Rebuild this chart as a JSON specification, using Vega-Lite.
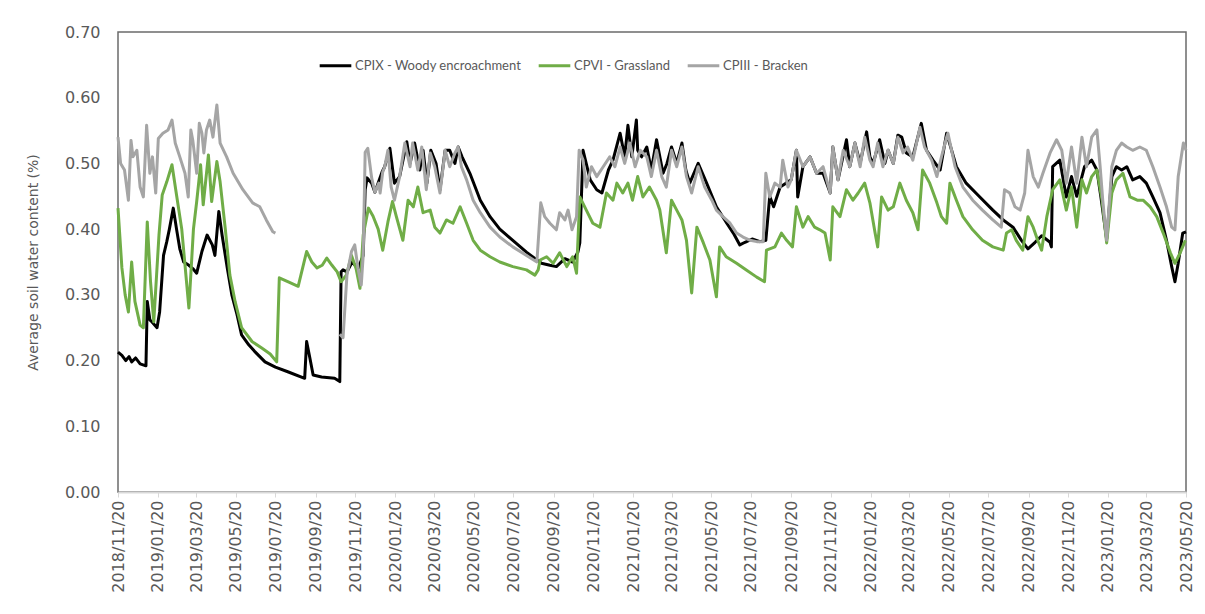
{
  "$schema": "https://vega.github.io/schema/vega-lite/v6.json",
  "width": 1068,
  "height": 460,
  "autosize": {"type": "none"},
  "padding": {"left": 118, "top": 32, "right": 19, "bottom": 122},
  "background": "white",
  "datasets": {
    "cpix": [
      {"d":"2018-11-20","v":0.213},{"d":"2018-11-26","v":0.208},{"d":"2018-12-02","v":0.2},{"d":"2018-12-07","v":0.206},
      {"d":"2018-12-11","v":0.198},{"d":"2018-12-17","v":0.204},{"d":"2018-12-24","v":0.195},{"d":"2019-01-02","v":0.192},
      {"d":"2019-01-04","v":0.29},{"d":"2019-01-08","v":0.262},{"d":"2019-01-11","v":0.259},{"d":"2019-01-19","v":0.25},
      {"d":"2019-01-23","v":0.274},{"d":"2019-01-29","v":0.36},{"d":"2019-02-03","v":0.381},{"d":"2019-02-07","v":0.4},
      {"d":"2019-02-13","v":0.432},{"d":"2019-02-18","v":0.4},{"d":"2019-02-23","v":0.37},{"d":"2019-03-01","v":0.35},
      {"d":"2019-03-09","v":0.345},{"d":"2019-03-15","v":0.34},{"d":"2019-03-21","v":0.333},{"d":"2019-03-29","v":0.366},
      {"d":"2019-04-06","v":0.391},{"d":"2019-04-14","v":0.376},{"d":"2019-04-18","v":0.36},{"d":"2019-04-24","v":0.427},
      {"d":"2019-04-29","v":0.391},{"d":"2019-05-07","v":0.341},{"d":"2019-05-14","v":0.3},{"d":"2019-05-22","v":0.27},
      {"d":"2019-05-29","v":0.239},{"d":"2019-06-09","v":0.224},{"d":"2019-06-18","v":0.214},{"d":"2019-07-04","v":0.198},
      {"d":"2019-07-20","v":0.19},{"d":"2019-08-08","v":0.183},{"d":"2019-09-03","v":0.173},{"d":"2019-09-06","v":0.229},
      {"d":"2019-09-11","v":0.204},{"d":"2019-09-16","v":0.178},{"d":"2019-09-29","v":0.175},{"d":"2019-10-19","v":0.173},
      {"d":"2019-10-27","v":0.168},{"d":"2019-10-29","v":0.335},{"d":"2019-11-01","v":0.338},{"d":"2019-11-07","v":0.335},
      {"d":"2019-11-15","v":0.35},{"d":"2019-11-24","v":0.34},{"d":"2019-12-02","v":0.36},{"d":"2019-12-05","v":0.46},
      {"d":"2019-12-08","v":0.478},{"d":"2019-12-15","v":0.47},{"d":"2019-12-20","v":0.456},{"d":"2019-12-31","v":0.487},
      {"d":"2020-01-04","v":0.495},{"d":"2020-01-12","v":0.523},{"d":"2020-01-19","v":0.47},{"d":"2020-01-27","v":0.48},
      {"d":"2020-02-07","v":0.533},{"d":"2020-02-12","v":0.5},{"d":"2020-02-19","v":0.531},{"d":"2020-02-27","v":0.49},
      {"d":"2020-03-03","v":0.52},{"d":"2020-03-09","v":0.47},{"d":"2020-03-15","v":0.52},{"d":"2020-03-23","v":0.5},
      {"d":"2020-03-29","v":0.46},{"d":"2020-04-06","v":0.52},{"d":"2020-04-13","v":0.52},{"d":"2020-04-21","v":0.5},
      {"d":"2020-04-26","v":0.525},{"d":"2020-05-02","v":0.51},{"d":"2020-05-14","v":0.485},{"d":"2020-05-30","v":0.444},
      {"d":"2020-06-14","v":0.419},{"d":"2020-06-29","v":0.4},{"d":"2020-07-19","v":0.383},{"d":"2020-08-09","v":0.365},
      {"d":"2020-08-25","v":0.353},{"d":"2020-09-01","v":0.348},{"d":"2020-09-14","v":0.345},{"d":"2020-09-24","v":0.343},
      {"d":"2020-10-07","v":0.355},{"d":"2020-10-19","v":0.35},{"d":"2020-10-27","v":0.365},{"d":"2020-10-30","v":0.379},
      {"d":"2020-11-04","v":0.52},{"d":"2020-11-15","v":0.475},{"d":"2020-11-25","v":0.46},{"d":"2020-12-03","v":0.455},
      {"d":"2020-12-13","v":0.49},{"d":"2020-12-20","v":0.505},{"d":"2020-12-31","v":0.546},{"d":"2021-01-07","v":0.51},
      {"d":"2021-01-12","v":0.558},{"d":"2021-01-18","v":0.51},{"d":"2021-01-25","v":0.566},{"d":"2021-01-27","v":0.52},
      {"d":"2021-02-02","v":0.51},{"d":"2021-02-10","v":0.525},{"d":"2021-02-17","v":0.49},{"d":"2021-02-25","v":0.536},
      {"d":"2021-03-07","v":0.485},{"d":"2021-03-13","v":0.5},{"d":"2021-03-20","v":0.525},{"d":"2021-03-28","v":0.5},
      {"d":"2021-04-05","v":0.531},{"d":"2021-04-11","v":0.49},{"d":"2021-04-17","v":0.47},{"d":"2021-04-30","v":0.5},
      {"d":"2021-05-13","v":0.47},{"d":"2021-05-28","v":0.434},{"d":"2021-06-13","v":0.409},{"d":"2021-06-23","v":0.394},
      {"d":"2021-07-03","v":0.376},{"d":"2021-07-11","v":0.38},{"d":"2021-07-22","v":0.385},{"d":"2021-08-03","v":0.381},
      {"d":"2021-08-12","v":0.383},{"d":"2021-08-18","v":0.45},{"d":"2021-08-24","v":0.434},{"d":"2021-09-03","v":0.464},
      {"d":"2021-09-12","v":0.47},{"d":"2021-09-20","v":0.475},{"d":"2021-09-28","v":0.52},{"d":"2021-09-30","v":0.449},
      {"d":"2021-10-08","v":0.495},{"d":"2021-10-19","v":0.51},{"d":"2021-10-29","v":0.485},{"d":"2021-11-08","v":0.485},
      {"d":"2021-11-19","v":0.455},{"d":"2021-11-23","v":0.525},{"d":"2021-12-01","v":0.475},{"d":"2021-12-14","v":0.536},
      {"d":"2021-12-19","v":0.495},{"d":"2021-12-27","v":0.531},{"d":"2022-01-04","v":0.5},{"d":"2022-01-14","v":0.548},
      {"d":"2022-01-19","v":0.51},{"d":"2022-01-24","v":0.5},{"d":"2022-02-03","v":0.536},{"d":"2022-02-11","v":0.5},
      {"d":"2022-02-16","v":0.52},{"d":"2022-02-24","v":0.5},{"d":"2022-03-03","v":0.543},{"d":"2022-03-09","v":0.54},
      {"d":"2022-03-16","v":0.516},{"d":"2022-03-26","v":0.51},{"d":"2022-04-08","v":0.561},{"d":"2022-04-16","v":0.52},
      {"d":"2022-04-26","v":0.505},{"d":"2022-05-07","v":0.49},{"d":"2022-05-17","v":0.546},{"d":"2022-06-01","v":0.495},
      {"d":"2022-06-16","v":0.47},{"d":"2022-07-07","v":0.449},{"d":"2022-07-27","v":0.429},{"d":"2022-08-12","v":0.414},
      {"d":"2022-08-27","v":0.403},{"d":"2022-09-09","v":0.383},{"d":"2022-09-19","v":0.37},{"d":"2022-09-30","v":0.38},
      {"d":"2022-10-10","v":0.39},{"d":"2022-10-23","v":0.38},{"d":"2022-10-25","v":0.373},{"d":"2022-10-27","v":0.495},
      {"d":"2022-11-07","v":0.505},{"d":"2022-11-17","v":0.449},{"d":"2022-11-25","v":0.48},{"d":"2022-12-03","v":0.45},
      {"d":"2022-12-15","v":0.495},{"d":"2022-12-26","v":0.505},{"d":"2023-01-03","v":0.49},{"d":"2023-01-09","v":0.45},
      {"d":"2023-01-18","v":0.385},{"d":"2023-01-26","v":0.48},{"d":"2023-02-02","v":0.495},{"d":"2023-02-10","v":0.49},
      {"d":"2023-02-18","v":0.495},{"d":"2023-02-27","v":0.475},{"d":"2023-03-10","v":0.48},{"d":"2023-03-20","v":0.47},
      {"d":"2023-03-30","v":0.449},{"d":"2023-04-10","v":0.425},{"d":"2023-04-20","v":0.383},{"d":"2023-04-28","v":0.343},
      {"d":"2023-05-03","v":0.32},{"d":"2023-05-08","v":0.348},{"d":"2023-05-15","v":0.394},{"d":"2023-05-20","v":0.396}
    ],
    "cpvi": [
      {"d":"2018-11-20","v":0.432},{"d":"2018-11-26","v":0.341},{"d":"2018-12-01","v":0.3},{"d":"2018-12-06","v":0.274},
      {"d":"2018-12-11","v":0.35},{"d":"2018-12-16","v":0.29},{"d":"2018-12-24","v":0.254},{"d":"2018-12-29","v":0.25},
      {"d":"2019-01-04","v":0.411},{"d":"2019-01-09","v":0.32},{"d":"2019-01-14","v":0.259},{"d":"2019-01-22","v":0.391},
      {"d":"2019-01-27","v":0.452},{"d":"2019-02-03","v":0.472},{"d":"2019-02-11","v":0.498},{"d":"2019-02-18","v":0.452},
      {"d":"2019-02-26","v":0.4},{"d":"2019-03-09","v":0.28},{"d":"2019-03-16","v":0.4},{"d":"2019-03-21","v":0.442},
      {"d":"2019-03-27","v":0.498},{"d":"2019-03-31","v":0.437},{"d":"2019-04-08","v":0.513},{"d":"2019-04-13","v":0.442},
      {"d":"2019-04-21","v":0.503},{"d":"2019-04-26","v":0.472},{"d":"2019-05-04","v":0.4},{"d":"2019-05-11","v":0.33},
      {"d":"2019-05-19","v":0.29},{"d":"2019-05-29","v":0.25},{"d":"2019-06-14","v":0.229},{"d":"2019-06-29","v":0.219},
      {"d":"2019-07-12","v":0.21},{"d":"2019-07-22","v":0.198},{"d":"2019-07-26","v":0.326},{"d":"2019-08-08","v":0.32},
      {"d":"2019-08-24","v":0.313},{"d":"2019-09-06","v":0.366},{"d":"2019-09-14","v":0.35},{"d":"2019-09-22","v":0.341},
      {"d":"2019-09-30","v":0.345},{"d":"2019-10-07","v":0.356},{"d":"2019-10-15","v":0.345},{"d":"2019-10-23","v":0.335},
      {"d":"2019-10-29","v":0.32},{"d":"2019-11-06","v":0.33},{"d":"2019-11-14","v":0.36},{"d":"2019-11-21","v":0.34},
      {"d":"2019-11-27","v":0.31},{"d":"2019-12-02","v":0.391},{"d":"2019-12-10","v":0.432},{"d":"2019-12-17","v":0.42},
      {"d":"2019-12-25","v":0.4},{"d":"2020-01-01","v":0.368},{"d":"2020-01-09","v":0.411},{"d":"2020-01-16","v":0.442},
      {"d":"2020-01-22","v":0.419},{"d":"2020-02-01","v":0.383},{"d":"2020-02-09","v":0.444},{"d":"2020-02-17","v":0.434},
      {"d":"2020-02-24","v":0.464},{"d":"2020-03-03","v":0.425},{"d":"2020-03-14","v":0.429},{"d":"2020-03-21","v":0.403},
      {"d":"2020-03-29","v":0.394},{"d":"2020-04-08","v":0.414},{"d":"2020-04-18","v":0.409},{"d":"2020-04-29","v":0.434},
      {"d":"2020-05-09","v":0.409},{"d":"2020-05-19","v":0.383},{"d":"2020-05-30","v":0.368},{"d":"2020-06-14","v":0.358},
      {"d":"2020-06-29","v":0.35},{"d":"2020-07-19","v":0.343},{"d":"2020-08-09","v":0.338},{"d":"2020-08-22","v":0.33},
      {"d":"2020-08-27","v":0.338},{"d":"2020-08-30","v":0.353},{"d":"2020-09-09","v":0.358},{"d":"2020-09-19","v":0.348},
      {"d":"2020-09-29","v":0.364},{"d":"2020-10-10","v":0.343},{"d":"2020-10-19","v":0.358},{"d":"2020-10-25","v":0.333},
      {"d":"2020-10-30","v":0.449},{"d":"2020-11-09","v":0.429},{"d":"2020-11-19","v":0.409},{"d":"2020-11-30","v":0.403},
      {"d":"2020-12-10","v":0.455},{"d":"2020-12-20","v":0.444},{"d":"2020-12-26","v":0.47},{"d":"2021-01-04","v":0.455},
      {"d":"2021-01-12","v":0.47},{"d":"2021-01-19","v":0.444},{"d":"2021-01-27","v":0.48},{"d":"2021-02-04","v":0.449},
      {"d":"2021-02-14","v":0.464},{"d":"2021-02-25","v":0.444},{"d":"2021-03-02","v":0.429},{"d":"2021-03-12","v":0.364},
      {"d":"2021-03-20","v":0.444},{"d":"2021-03-28","v":0.429},{"d":"2021-04-05","v":0.414},{"d":"2021-04-12","v":0.383},
      {"d":"2021-04-20","v":0.303},{"d":"2021-04-28","v":0.403},{"d":"2021-05-08","v":0.379},{"d":"2021-05-18","v":0.353},
      {"d":"2021-05-28","v":0.297},{"d":"2021-06-02","v":0.373},{"d":"2021-06-12","v":0.358},{"d":"2021-06-28","v":0.348},
      {"d":"2021-07-13","v":0.338},{"d":"2021-07-29","v":0.327},{"d":"2021-08-10","v":0.32},{"d":"2021-08-13","v":0.368},
      {"d":"2021-08-26","v":0.373},{"d":"2021-09-05","v":0.394},{"d":"2021-09-13","v":0.383},{"d":"2021-09-22","v":0.373},
      {"d":"2021-09-28","v":0.434},{"d":"2021-10-08","v":0.403},{"d":"2021-10-16","v":0.419},{"d":"2021-10-26","v":0.403},
      {"d":"2021-11-03","v":0.399},{"d":"2021-11-11","v":0.394},{"d":"2021-11-19","v":0.353},{"d":"2021-11-23","v":0.434},
      {"d":"2021-12-04","v":0.419},{"d":"2021-12-14","v":0.46},{"d":"2021-12-24","v":0.444},{"d":"2022-01-01","v":0.455},
      {"d":"2022-01-11","v":0.47},{"d":"2022-01-19","v":0.44},{"d":"2022-01-27","v":0.394},{"d":"2022-01-31","v":0.373},
      {"d":"2022-02-06","v":0.449},{"d":"2022-02-16","v":0.429},{"d":"2022-02-24","v":0.434},{"d":"2022-03-06","v":0.47},
      {"d":"2022-03-16","v":0.444},{"d":"2022-03-26","v":0.425},{"d":"2022-04-03","v":0.399},{"d":"2022-04-10","v":0.49},
      {"d":"2022-04-21","v":0.47},{"d":"2022-05-02","v":0.44},{"d":"2022-05-09","v":0.419},{"d":"2022-05-17","v":0.409},
      {"d":"2022-05-22","v":0.47},{"d":"2022-06-01","v":0.444},{"d":"2022-06-11","v":0.419},{"d":"2022-06-26","v":0.399},
      {"d":"2022-07-11","v":0.383},{"d":"2022-07-27","v":0.373},{"d":"2022-08-12","v":0.368},{"d":"2022-08-17","v":0.394},
      {"d":"2022-08-25","v":0.399},{"d":"2022-09-01","v":0.383},{"d":"2022-09-11","v":0.368},{"d":"2022-09-19","v":0.419},
      {"d":"2022-09-27","v":0.403},{"d":"2022-10-04","v":0.383},{"d":"2022-10-10","v":0.368},{"d":"2022-10-18","v":0.419},
      {"d":"2022-10-27","v":0.46},{"d":"2022-11-07","v":0.475},{"d":"2022-11-17","v":0.429},{"d":"2022-11-25","v":0.464},
      {"d":"2022-12-03","v":0.403},{"d":"2022-12-11","v":0.475},{"d":"2022-12-18","v":0.455},{"d":"2022-12-26","v":0.48},
      {"d":"2023-01-03","v":0.49},{"d":"2023-01-11","v":0.444},{"d":"2023-01-18","v":0.379},{"d":"2023-01-26","v":0.455},
      {"d":"2023-02-02","v":0.475},{"d":"2023-02-12","v":0.485},{"d":"2023-02-23","v":0.449},{"d":"2023-03-06","v":0.444},
      {"d":"2023-03-15","v":0.444},{"d":"2023-03-26","v":0.434},{"d":"2023-04-05","v":0.419},{"d":"2023-04-15","v":0.394},
      {"d":"2023-04-26","v":0.364},{"d":"2023-05-03","v":0.348},{"d":"2023-05-11","v":0.364},{"d":"2023-05-19","v":0.383}
    ],
    "cpiii": [
      {"d":"2018-11-20","v":0.54},{"d":"2018-11-24","v":0.5},{"d":"2018-11-30","v":0.49},{"d":"2018-12-06","v":0.444},
      {"d":"2018-12-10","v":0.535},{"d":"2018-12-13","v":0.51},{"d":"2018-12-19","v":0.52},{"d":"2018-12-24","v":0.464},
      {"d":"2018-12-29","v":0.449},{"d":"2019-01-03","v":0.558},{"d":"2019-01-08","v":0.485},{"d":"2019-01-12","v":0.51},
      {"d":"2019-01-17","v":0.455},{"d":"2019-01-21","v":0.538},{"d":"2019-01-28","v":0.546},{"d":"2019-02-05","v":0.551},
      {"d":"2019-02-11","v":0.566},{"d":"2019-02-16","v":0.531},{"d":"2019-02-23","v":0.51},{"d":"2019-03-03","v":0.485},
      {"d":"2019-03-08","v":0.449},{"d":"2019-03-12","v":0.551},{"d":"2019-03-15","v":0.535},{"d":"2019-03-21","v":0.485},
      {"d":"2019-03-25","v":0.561},{"d":"2019-03-29","v":0.546},{"d":"2019-04-01","v":0.516},{"d":"2019-04-05","v":0.551},
      {"d":"2019-04-10","v":0.566},{"d":"2019-04-15","v":0.54},{"d":"2019-04-21","v":0.589},{"d":"2019-04-26","v":0.531},
      {"d":"2019-05-06","v":0.51},{"d":"2019-05-16","v":0.485},{"d":"2019-05-31","v":0.46},{"d":"2019-06-15","v":0.44},
      {"d":"2019-06-26","v":0.434},{"d":"2019-07-06","v":0.414},{"d":"2019-07-16","v":0.396},{"d":"2019-07-20","v":0.394},
      {"d":"2019-08-31","v":null},
      {"d":"2019-10-27","v":0.24},{"d":"2019-11-01","v":0.235},{"d":"2019-11-07","v":0.33},{"d":"2019-11-14","v":0.366},
      {"d":"2019-11-19","v":0.376},{"d":"2019-11-24","v":0.34},{"d":"2019-11-29","v":0.315},{"d":"2019-12-02","v":0.36},
      {"d":"2019-12-05","v":0.517},{"d":"2019-12-09","v":0.523},{"d":"2019-12-15","v":0.478},{"d":"2019-12-20","v":0.456},
      {"d":"2019-12-26","v":0.47},{"d":"2019-12-28","v":0.455},{"d":"2020-01-01","v":0.487},{"d":"2020-01-04","v":0.495},
      {"d":"2020-01-09","v":0.52},{"d":"2020-01-14","v":0.464},{"d":"2020-01-19","v":0.444},{"d":"2020-01-27","v":0.48},
      {"d":"2020-02-04","v":0.531},{"d":"2020-02-12","v":0.495},{"d":"2020-02-16","v":0.531},{"d":"2020-02-24","v":0.49},
      {"d":"2020-03-01","v":0.525},{"d":"2020-03-08","v":0.46},{"d":"2020-03-14","v":0.516},{"d":"2020-03-21","v":0.495},
      {"d":"2020-03-29","v":0.455},{"d":"2020-04-06","v":0.52},{"d":"2020-04-13","v":0.495},{"d":"2020-04-21","v":0.516},
      {"d":"2020-04-26","v":0.525},{"d":"2020-05-01","v":0.495},{"d":"2020-05-09","v":0.475},{"d":"2020-05-19","v":0.444},
      {"d":"2020-05-30","v":0.425},{"d":"2020-06-14","v":0.403},{"d":"2020-06-29","v":0.388},{"d":"2020-07-19","v":0.373},
      {"d":"2020-08-09","v":0.36},{"d":"2020-08-25","v":0.35},{"d":"2020-08-31","v":0.44},{"d":"2020-09-06","v":0.419},
      {"d":"2020-09-14","v":0.409},{"d":"2020-09-24","v":0.399},{"d":"2020-09-29","v":0.425},{"d":"2020-10-07","v":0.414},
      {"d":"2020-10-12","v":0.429},{"d":"2020-10-18","v":0.399},{"d":"2020-10-25","v":0.419},{"d":"2020-10-29","v":0.52},
      {"d":"2020-11-04","v":0.505},{"d":"2020-11-09","v":0.464},{"d":"2020-11-17","v":0.495},{"d":"2020-11-25","v":0.48},
      {"d":"2020-12-05","v":0.495},{"d":"2020-12-15","v":0.51},{"d":"2020-12-23","v":0.495},{"d":"2020-12-31","v":0.525},
      {"d":"2021-01-07","v":0.5},{"d":"2021-01-15","v":0.531},{"d":"2021-01-23","v":0.495},{"d":"2021-01-31","v":0.52},
      {"d":"2021-02-10","v":0.51},{"d":"2021-02-17","v":0.48},{"d":"2021-02-25","v":0.52},{"d":"2021-03-05","v":0.48},
      {"d":"2021-03-12","v":0.464},{"d":"2021-03-20","v":0.52},{"d":"2021-03-28","v":0.495},{"d":"2021-04-05","v":0.525},
      {"d":"2021-04-12","v":0.48},{"d":"2021-04-20","v":0.455},{"d":"2021-04-30","v":0.495},{"d":"2021-05-10","v":0.464},
      {"d":"2021-05-21","v":0.444},{"d":"2021-05-28","v":0.429},{"d":"2021-06-07","v":0.419},{"d":"2021-06-18","v":0.409},
      {"d":"2021-06-28","v":0.394},{"d":"2021-07-08","v":0.388},{"d":"2021-07-19","v":0.383},{"d":"2021-07-29","v":0.381},
      {"d":"2021-08-08","v":0.381},{"d":"2021-08-12","v":0.485},{"d":"2021-08-18","v":0.449},{"d":"2021-08-26","v":0.47},
      {"d":"2021-09-03","v":0.464},{"d":"2021-09-07","v":0.505},{"d":"2021-09-15","v":0.464},{"d":"2021-09-20","v":0.475},
      {"d":"2021-09-28","v":0.52},{"d":"2021-10-08","v":0.495},{"d":"2021-10-19","v":0.51},{"d":"2021-10-29","v":0.485},
      {"d":"2021-11-08","v":0.495},{"d":"2021-11-19","v":0.455},{"d":"2021-11-23","v":0.525},{"d":"2021-12-01","v":0.475},
      {"d":"2021-12-09","v":0.52},{"d":"2021-12-19","v":0.495},{"d":"2021-12-27","v":0.531},{"d":"2022-01-04","v":0.495},
      {"d":"2022-01-11","v":0.54},{"d":"2022-01-19","v":0.505},{"d":"2022-01-24","v":0.495},{"d":"2022-01-31","v":0.531},
      {"d":"2022-02-08","v":0.495},{"d":"2022-02-16","v":0.52},{"d":"2022-02-24","v":0.5},{"d":"2022-03-03","v":0.54},
      {"d":"2022-03-11","v":0.516},{"d":"2022-03-18","v":0.525},{"d":"2022-03-26","v":0.505},{"d":"2022-04-06","v":0.555},
      {"d":"2022-04-13","v":0.525},{"d":"2022-04-24","v":0.505},{"d":"2022-05-02","v":0.48},{"d":"2022-05-09","v":0.51},
      {"d":"2022-05-17","v":0.54},{"d":"2022-05-19","v":0.546},{"d":"2022-05-30","v":0.495},{"d":"2022-06-11","v":0.464},
      {"d":"2022-06-26","v":0.444},{"d":"2022-07-11","v":0.429},{"d":"2022-07-27","v":0.414},{"d":"2022-08-09","v":0.403},
      {"d":"2022-08-14","v":0.46},{"d":"2022-08-22","v":0.455},{"d":"2022-08-30","v":0.434},{"d":"2022-09-07","v":0.429},
      {"d":"2022-09-14","v":0.455},{"d":"2022-09-19","v":0.52},{"d":"2022-09-27","v":0.48},{"d":"2022-10-05","v":0.464},
      {"d":"2022-10-12","v":0.485},{"d":"2022-10-23","v":0.516},{"d":"2022-11-02","v":0.536},{"d":"2022-11-10","v":0.52},
      {"d":"2022-11-17","v":0.47},{"d":"2022-11-25","v":0.525},{"d":"2022-12-03","v":0.47},{"d":"2022-12-11","v":0.54},
      {"d":"2022-12-18","v":0.495},{"d":"2022-12-26","v":0.54},{"d":"2023-01-03","v":0.551},{"d":"2023-01-08","v":0.495},
      {"d":"2023-01-12","v":0.444},{"d":"2023-01-18","v":0.383},{"d":"2023-01-26","v":0.495},{"d":"2023-02-02","v":0.52},
      {"d":"2023-02-10","v":0.531},{"d":"2023-02-18","v":0.525},{"d":"2023-02-27","v":0.52},{"d":"2023-03-10","v":0.525},
      {"d":"2023-03-20","v":0.52},{"d":"2023-03-30","v":0.495},{"d":"2023-04-10","v":0.464},{"d":"2023-04-20","v":0.434},
      {"d":"2023-04-28","v":0.403},{"d":"2023-05-03","v":0.399},{"d":"2023-05-08","v":0.48},{"d":"2023-05-16","v":0.531},
      {"d":"2023-05-20","v":0.52}
    ]
  },
  "encoding": {
    "x": {
      "field": "d",
      "type": "temporal",
      "title": null,
      "scale": {
        "type": "utc",
        "nice": false,
        "domain": [
          {"year": 2018, "month": 11, "date": 20, "utc": true},
          {"year": 2023, "month": 5, "date": 20, "utc": true}
        ]
      },
      "axis": {
        "zindex": 2,
        "format": "%Y/%m/%d",
        "labelAngle": 270,
        "labelAlign": "right",
        "labelBaseline": "middle",
        "labelFont": "DejaVu Sans",
        "labelFontSize": 16,
        "labelColor": "#595959",
        "labelPadding": 3,
        "labelOverlap": false,
        "labelFlush": false,
        "domainColor": "#d9d9d9",
        "domainWidth": 2,
        "tickColor": "#d9d9d9",
        "tickSize": 5,
        "tickWidth": 1,
        "grid": false,
        "values": [
          {"year": 2018, "month": 11, "date": 20, "utc": true},
          {"year": 2019, "month": 1, "date": 20, "utc": true},
          {"year": 2019, "month": 3, "date": 20, "utc": true},
          {"year": 2019, "month": 5, "date": 20, "utc": true},
          {"year": 2019, "month": 7, "date": 20, "utc": true},
          {"year": 2019, "month": 9, "date": 20, "utc": true},
          {"year": 2019, "month": 11, "date": 20, "utc": true},
          {"year": 2020, "month": 1, "date": 20, "utc": true},
          {"year": 2020, "month": 3, "date": 20, "utc": true},
          {"year": 2020, "month": 5, "date": 20, "utc": true},
          {"year": 2020, "month": 7, "date": 20, "utc": true},
          {"year": 2020, "month": 9, "date": 20, "utc": true},
          {"year": 2020, "month": 11, "date": 20, "utc": true},
          {"year": 2021, "month": 1, "date": 20, "utc": true},
          {"year": 2021, "month": 3, "date": 20, "utc": true},
          {"year": 2021, "month": 5, "date": 20, "utc": true},
          {"year": 2021, "month": 7, "date": 20, "utc": true},
          {"year": 2021, "month": 9, "date": 20, "utc": true},
          {"year": 2021, "month": 11, "date": 20, "utc": true},
          {"year": 2022, "month": 1, "date": 20, "utc": true},
          {"year": 2022, "month": 3, "date": 20, "utc": true},
          {"year": 2022, "month": 5, "date": 20, "utc": true},
          {"year": 2022, "month": 7, "date": 20, "utc": true},
          {"year": 2022, "month": 9, "date": 20, "utc": true},
          {"year": 2022, "month": 11, "date": 20, "utc": true},
          {"year": 2023, "month": 1, "date": 20, "utc": true},
          {"year": 2023, "month": 3, "date": 20, "utc": true},
          {"year": 2023, "month": 5, "date": 20, "utc": true}
        ]
      }
    },
    "y": {
      "field": "v",
      "type": "quantitative",
      "title": "Average soil water content (%)",
      "scale": {"domain": [0, 0.7], "nice": false, "zero": true},
      "axis": {
        "values": [0, 0.1, 0.2, 0.3, 0.4, 0.5, 0.6, 0.7],
        "format": ".2f",
        "domain": false,
        "ticks": false,
        "grid": false,
        "labelFont": "DejaVu Sans",
        "labelFontSize": 16,
        "labelColor": "#595959",
        "labelPadding": 18,
        "titleFont": "DejaVu Sans",
        "titleFontSize": 14,
        "titleFontWeight": "normal",
        "titleColor": "#595959",
        "titlePadding": 24
      }
    },
    "color": {
      "scale": {
        "domain": ["CPIX - Woody encroachment", "CPVI - Grassland", "CPIII - Bracken"],
        "range": ["#000000", "#70ad47", "#a5a5a5"]
      },
      "legend": {
        "title": null,
        "orient": "none",
        "direction": "horizontal",
        "legendX": 200,
        "legendY": 16,
        "symbolType": "stroke",
        "symbolSize": 1000,
        "symbolStrokeWidth": 3,
        "labelFont": "Lato",
        "labelFontSize": 13,
        "labelColor": "#595959",
        "labelLimit": 400,
        "labelOffset": 2,
        "columnPadding": 10
      }
    }
  },
  "layer": [
    {
      "data": {"name": "cpix"},
      "mark": {"type": "line", "strokeWidth": 3, "strokeJoin": "round"},
      "encoding": {"color": {"datum": "CPIX - Woody encroachment"}}
    },
    {
      "data": {"name": "cpvi"},
      "mark": {"type": "line", "strokeWidth": 3, "strokeJoin": "round"},
      "encoding": {"color": {"datum": "CPVI - Grassland"}}
    },
    {
      "data": {"name": "cpiii"},
      "mark": {"type": "line", "strokeWidth": 3, "strokeJoin": "round", "invalid": "break-paths-show-domains"},
      "encoding": {"color": {"datum": "CPIII - Bracken"}}
    }
  ],
  "config": {
    "view": {"stroke": "#6b6b6b", "strokeWidth": 1.5},
    "axis": {"grid": false}
  }
}
